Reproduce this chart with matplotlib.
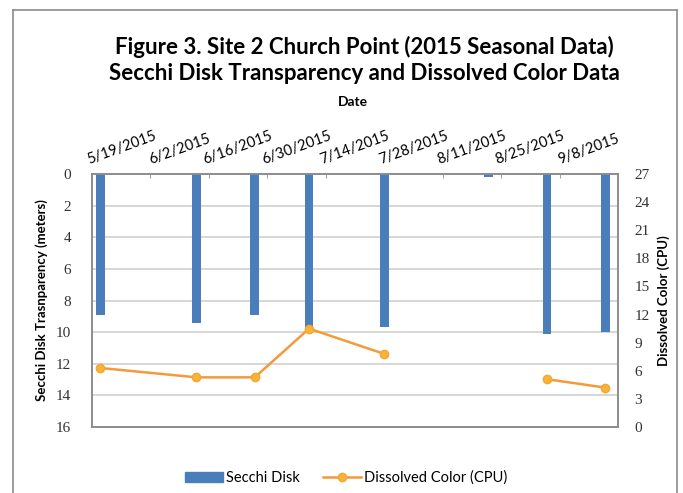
import numpy as np
import pandas as pd
import matplotlib
matplotlib.use('Agg')
import matplotlib.pyplot as plt
import matplotlib.dates as mdates
from matplotlib.lines import Line2D

# sample data
sample_dates = ['2015-05-14', '2015-06-06', '2015-06-20', '2015-07-03',
                '2015-07-21', '2015-08-15', '2015-08-29', '2015-09-12']
secchi_depth = [8.9, 9.4, 8.9, 9.8, 9.7, 0.2, 10.1, 10.0]
dissolved_color = [6.3, 5.3, 5.3, 10.5, 7.8, np.nan, 5.1, 4.2]
label_dates = ['2015-05-19', '2015-06-02', '2015-06-16', '2015-06-30', '2015-07-14',
               '2015-07-28', '2015-08-11', '2015-08-25', '2015-09-08']
label_text = ['5/19/2015', '6/2/2015', '6/16/2015', '6/30/2015', '7/14/2015',
              '7/28/2015', '8/11/2015', '8/25/2015', '9/8/2015']

plt.rcParams['font.family'] = ['Lato', 'DejaVu Sans']

W, H = 683, 493
fig = plt.figure(figsize=(W / 100, H / 100), dpi=100)

# outer chart frame
frame_col = '#8c8c8c'
fig.add_artist(Line2D([13 / W, 13 / W], [0, 1 - 10 / H], color=frame_col, lw=1.2))
fig.add_artist(Line2D([13 / W, 677 / W], [1 - 10 / H, 1 - 10 / H], color=frame_col, lw=1.2))
fig.add_artist(Line2D([677 / W, 677 / W], [0, 1 - 10 / H], color=frame_col, lw=1.2))

ax = fig.add_axes([92 / W, 1 - 427 / H, (618 - 92) / W, (427 - 174) / H])
ax2 = ax.twinx()

x = mdates.date2num(pd.to_datetime(sample_dates))
xl = mdates.date2num(pd.to_datetime(label_dates))

ax.bar(x, secchi_depth, width=2.1, color='#4a7ebb', zorder=2)
ax.set_ylim(16, 0)
ax.set_yticks(range(0, 17, 2))
ax.grid(axis='y', color='#d0d0d0', lw=1.2, zorder=0)
ax.set_axisbelow(True)

ax2.plot(x, dissolved_color, color='#f39a3b', lw=1.8, marker='o', ms=6,
         mfc='#f7b531', mec='#f3a63b', zorder=3)
ax2.set_ylim(0, 27)
ax2.set_yticks(range(0, 28, 3))

# date axis on top, labels centred between tick marks
ax.set_xlim(xl[0] - 7, xl[-1] + 7)
ax.xaxis.tick_top()
ax.set_xticks(xl)
ax.set_xticklabels(label_text, rotation=20, ha='center', fontsize=10.5)
ax.set_xticks(np.arange(xl[0] - 7, xl[-1] + 8, 14), minor=True)
ax.tick_params(axis='x', which='major', length=0, pad=5)
ax.tick_params(axis='x', which='minor', direction='in', length=3, color=frame_col, top=True, bottom=False)

for a in (ax, ax2):
    for s in a.spines.values():
        s.set_color(frame_col)
        s.set_linewidth(1.2)
ax.tick_params(axis='y', length=0, pad=15, labelsize=11)
ax2.tick_params(axis='y', length=0, pad=12, labelsize=11)
for lab in ax.get_yticklabels() + ax2.get_yticklabels():
    lab.set_family('Liberation Serif')
    lab.set_color('#333333')

ax.set_ylabel('Secchi Disk Trasnparency (meters)', fontsize=9.5, fontweight='bold', labelpad=6)
ax2.set_ylabel('Dissolved Color (CPU)', fontsize=9.5, fontweight='bold', labelpad=5)

fig.text(364 / W, 1 - 47 / H, 'Figure 3. Site 2 Church Point (2015 Seasonal Data)',
         ha='center', va='center', fontsize=16, fontweight='bold')
fig.text(364 / W, 1 - 73 / H, 'Secchi Disk Transparency and Dissolved Color Data',
         ha='center', va='center', fontsize=16, fontweight='bold')
fig.text(353 / W, 1 - 102 / H, 'Date', ha='center', va='center', fontsize=10, fontweight='bold')

handles = [plt.Rectangle((0, 0), 1, 1, color='#4a7ebb'),
           Line2D([], [], color='#f39a3b', lw=1.8, marker='o', ms=6, mfc='#f7b531', mec='#f3a63b')]
fig.legend(handles, ['Secchi Disk', 'Dissolved Color (CPU)'], loc='center',
           bbox_to_anchor=(346 / W, 1 - 478 / H), ncol=2, frameon=False, fontsize=10.5,
           handlelength=2.6, handletextpad=0.2, columnspacing=1.6)

fig.savefig('out.png', dpi=100)
